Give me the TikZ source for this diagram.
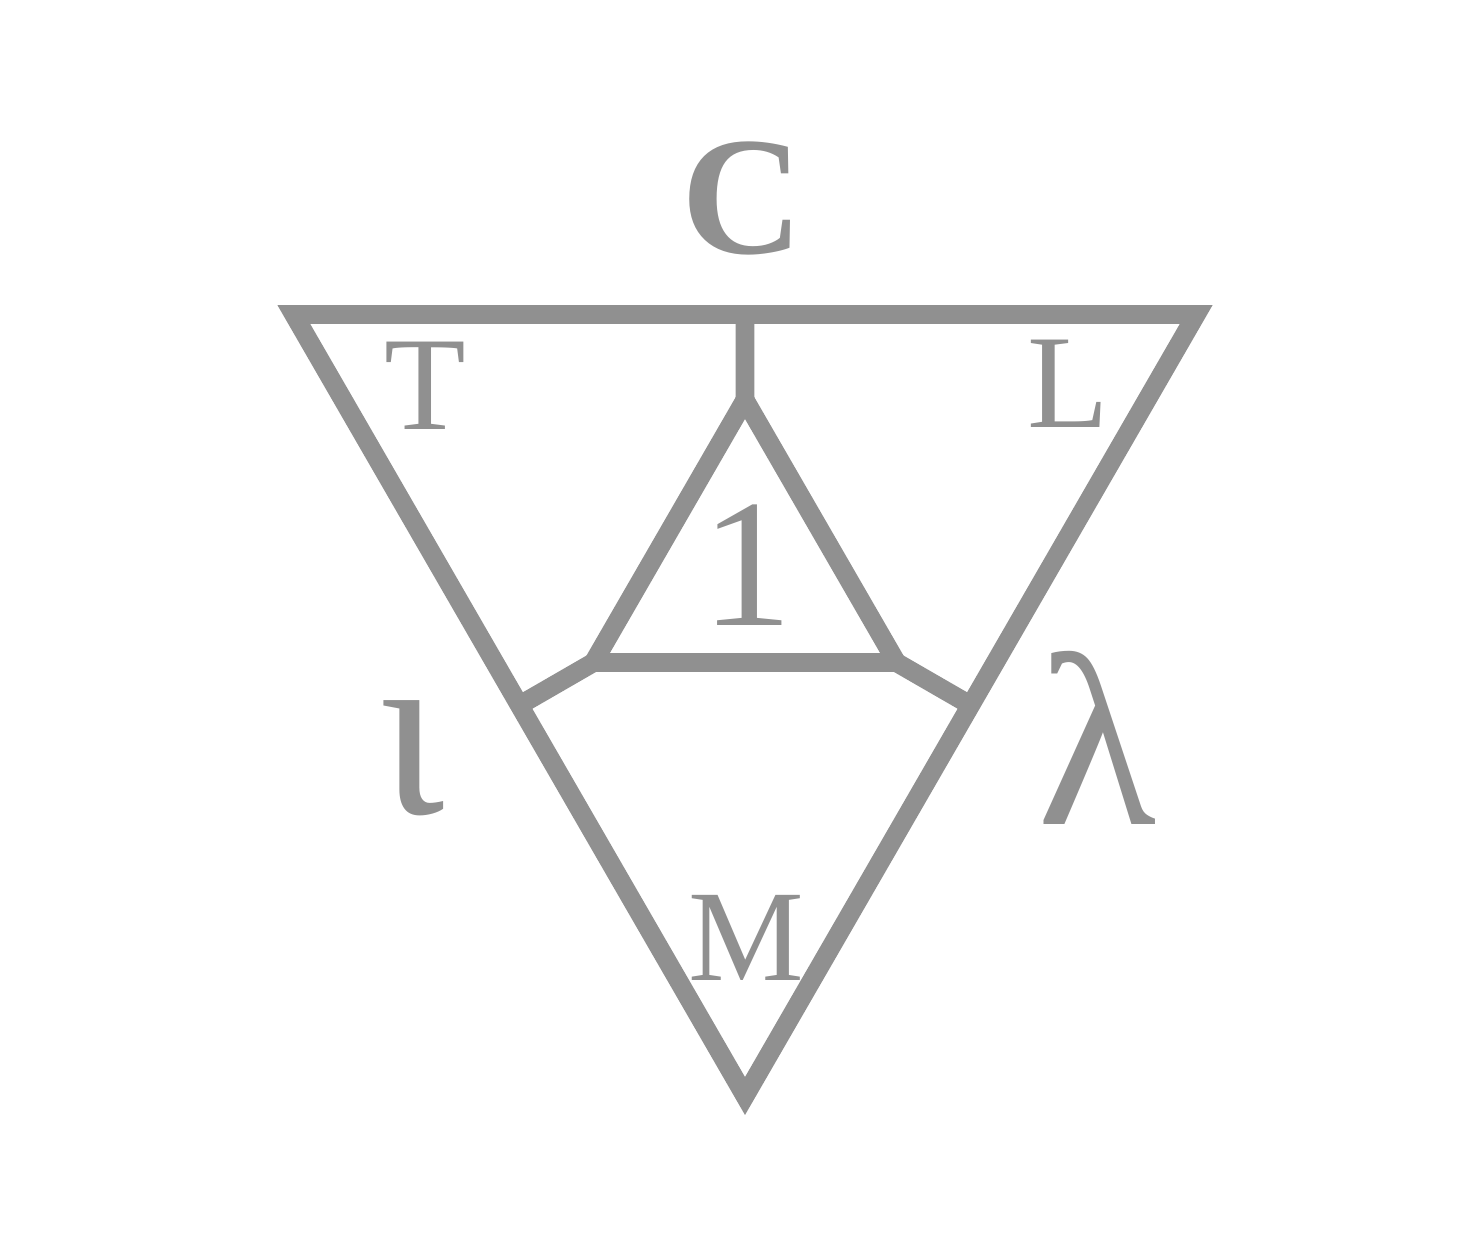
\documentclass[tikz,border=0pt]{standalone}
\usepackage{fontspec}
\setmainfont{Liberation Serif}
\usetikzlibrary{calc, positioning}
\definecolor{glyphgray}{RGB}{144,144,144}
\tikzset{
  frame/.style={glyphgray, line width=5.4pt},
  tag/.style={glyphgray, inner sep=0pt},
}

\begin{document}
\begin{tikzpicture}
  \useasboundingbox (0,0) rectangle (14.77,12.37);
  \coordinate (O) at (7.45,6.62);

  % Outer triangle, point down
  \coordinate (tl) at ($(O)+(150:5.21)$);
  \coordinate (tr) at ($(O)+(30:5.21)$);
  \coordinate (bt) at ($(O)+(270:5.21)$);
  \draw[frame] (tl) -- (tr) -- (bt) -- cycle;

  % Inner triangle, point up
  \coordinate (iT) at ($(O)+(90:1.75)$);
  \coordinate (iL) at ($(O)+(210:1.75)$);
  \coordinate (iR) at ($(O)+(330:1.75)$);
  \draw[frame] (iT) -- (iL) -- (iR) -- cycle;

  % Spokes to the side midpoints
  \coordinate (mT) at ($(tl)!0.5!(tr)$);
  \coordinate (mL) at ($(tl)!0.5!(bt)$);
  \coordinate (mR) at ($(tr)!0.5!(bt)$);
  \foreach \a/\b in {iT/mT, iL/mL, iR/mR} {
    \draw[frame] (\a) -- (\b);
  }

  % Labels
  \node[tag, font=\fontsize{48}{48}\selectfont\bfseries] (C) at (7.42,10.39) {C};
  \node[tag, font=\fontsize{38}{38}\selectfont] (T) at (4.25,8.51) {T};
  \node[tag, font=\fontsize{38}{38}\selectfont] (L) at (10.68,8.53) {L};
  \node[tag, font=\fontsize{52}{52}\selectfont] (one) at (7.47,6.72) {1};
  \node[tag, font=\fontsize{70}{70}\selectfont] (iota) at (4.12,4.79) {ι};
  \node[tag, font=\fontsize{70}{70}\selectfont] (lambda) at (10.97,4.99) {λ};
  \node[tag, font=\fontsize{37}{37}\selectfont] (M) at (7.46,2.99) {M};
\end{tikzpicture}
\end{document}
